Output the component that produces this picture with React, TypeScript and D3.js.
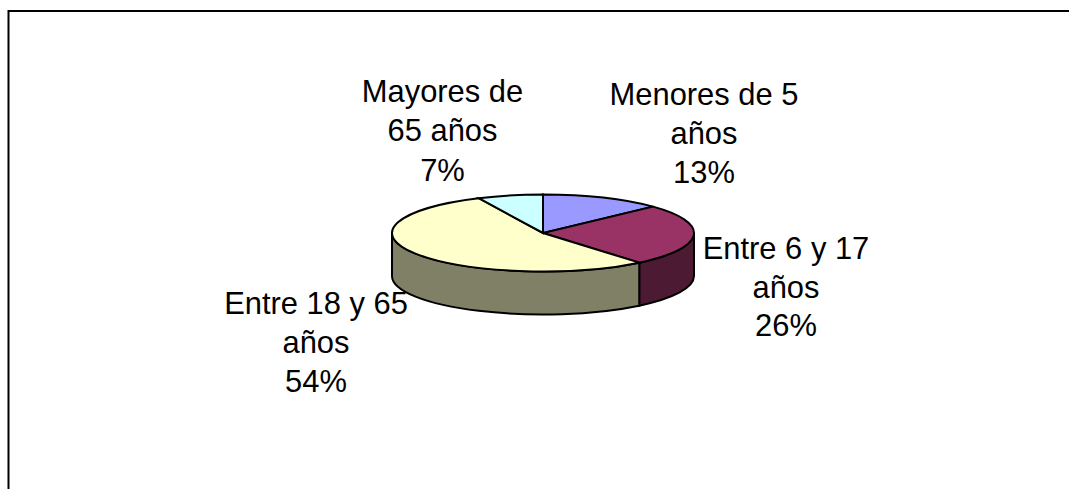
import React from "react";
import * as d3 from "d3";

const W = 1069, H = 489;
const categories = ["Menores de 5 años", "Entre 6 y 17 años", "Entre 18 y 65 años", "Mayores de 65 años"];
const values = [13, 26, 54, 7];
const topColors = ["#9999ff", "#993366", "#ffffcc", "#ccffff"];
const sideColors = ["#4d4d80", "#4d1a33", "#808066", "#668080"];
const labelLines = [
  ["Menores de 5", "años", "13%"],
  ["Entre 6 y 17", "años", "26%"],
  ["Entre 18 y 65", "años", "54%"],
  ["Mayores de", "65 años", "7%"],
];
const labelCenters = [[704, 105], [786, 259], [316, 313.5], [442.5, 102]];
const lineGaps = [39, 38.5, 39, 39.3];

const cx = 543, cy = 233, rx = 151, ry = 38.5, depth = 43;
const pie = d3.pie<number>().sort(null)(values);
const arc = d3.arc<d3.PieArcDatum<number>>().innerRadius(0).outerRadius(rx);
const yScale = ry / rx;

function pt(a: number, dy = 0) {
  return [cx + rx * Math.sin(a), cy - ry * Math.cos(a) + dy];
}
function side(a0: number, a1: number) {
  const s = Math.max(a0, Math.PI / 2), e = Math.min(a1, (3 * Math.PI) / 2);
  if (e <= s) return null;
  const p0 = pt(s), p1 = pt(e), q1 = pt(e, depth), q0 = pt(s, depth);
  return `M${p0}A${rx},${ry} 0 0 1 ${p1}L${q1}A${rx},${ry} 0 0 0 ${q0}Z`;
}

export default function App() {
  return (
    <svg width={W} height={H} style={{ position: "absolute", left: 0, top: 0, background: "#fff" }}>
      <path d={`M8.5,${H}V11H${W}`} fill="none" stroke="#000" strokeWidth={2} />
      {pie.map((d, i) => {
        const p = side(d.startAngle, d.endAngle);
        return p ? <path key={i} d={p} fill={sideColors[i]} stroke="#000" strokeWidth={2} /> : null;
      })}
      <g transform={`translate(${cx},${cy}) scale(1,${yScale})`}>
        {pie.map((d, i) => (
          <path key={categories[i]} d={arc(d) as string} fill={topColors[i]} stroke="#000" strokeWidth={2}
            vectorEffect="non-scaling-stroke" />
        ))}
      </g>
      {labelLines.map((lines, i) => (
        <text key={i} textAnchor="middle" fontFamily="'Liberation Sans', Arial, sans-serif" fontSize={30.9} fill="#000">
          {lines.map((l, j) => (
            <tspan key={j} x={labelCenters[i][0]} y={labelCenters[i][1] + j * lineGaps[i]}>{l}</tspan>
          ))}
        </text>
      ))}
    </svg>
  );
}
